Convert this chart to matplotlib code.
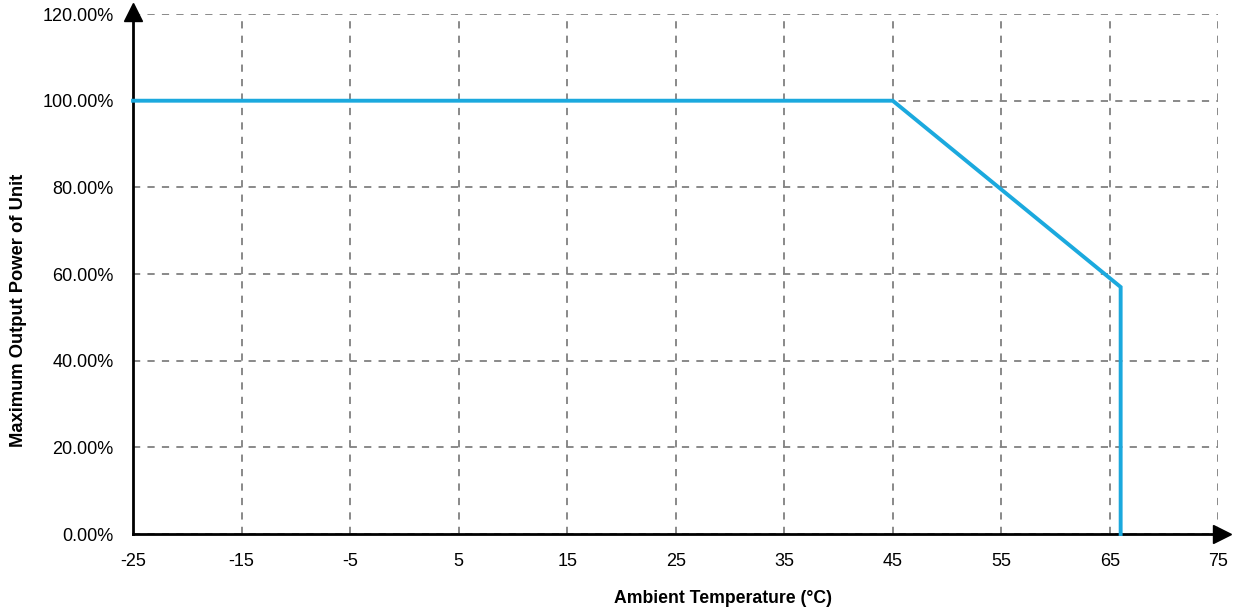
import matplotlib.pyplot as plt
from matplotlib.ticker import FuncFormatter

plt.rcParams['font.family'] = ['Liberation Sans', 'DejaVu Sans']
plt.rcParams['axes.unicode_minus'] = False

# derating curve
temp = [-25, 45, 66, 66]
power = [100, 100, 57, 0]

xticks = [-25, -15, -5, 5, 15, 25, 35, 45, 55, 65, 75]
yticks = [0, 20, 40, 60, 80, 100, 120]

fig = plt.figure(figsize=(12.34, 6.11), dpi=100)
ax = fig.add_axes([0.1078, 0.126, 0.8795, 0.851])

ax.plot(temp, power, color='#1ba9de', lw=2.8, solid_joinstyle='miter', zorder=3, clip_on=False)

ax.set_xlim(-25, 75)
ax.set_ylim(0, 120)
ax.set_xticks(xticks)
ax.set_yticks(yticks)
ax.yaxis.set_major_formatter(FuncFormatter(lambda v, p: f'{v:.2f}%'))
ax.tick_params(length=0, labelsize=13)
ax.tick_params(axis='x', pad=14)
ax.tick_params(axis='y', pad=14)

ax.grid(True, color='#808080', ls=(0, (4, 4)), lw=1.3)
for s in ['top', 'right']:
    ax.spines[s].set_visible(False)
for s in ['left', 'bottom']:
    ax.spines[s].set_linewidth(2)

# arrow heads
ax.plot(1.003, 0, marker='>', color='k', ms=13, transform=ax.transAxes, clip_on=False)
ax.plot(0, 1.003, marker='^', color='k', ms=13, transform=ax.transAxes, clip_on=False)

ax.set_xlabel('Ambient Temperature (°C)', fontsize=12.7, fontweight='bold')
ax.set_ylabel('Maximum Output Power of Unit', fontsize=13.2, fontweight='bold')
ax.xaxis.set_label_coords(0.544, -0.108)
ax.yaxis.set_label_coords(-0.098, 0.431)

fig.savefig('out.png', dpi=100)
